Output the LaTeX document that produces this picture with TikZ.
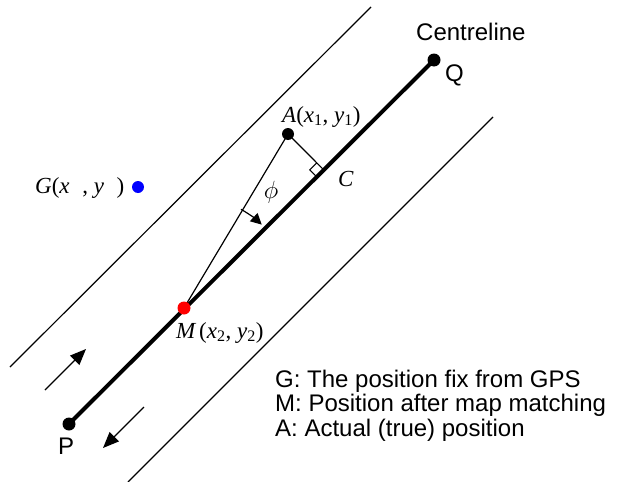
\documentclass[tikz,border=0pt]{standalone}
\usepackage{fontspec}
\setmainfont{Liberation Sans}
\newfontfamily\tms{Liberation Serif}
\usetikzlibrary{arrows.meta,positioning,calc}
\newcommand{\up}[1]{{\upshape #1}}

\begin{document}
\begin{tikzpicture}[x=1pt,y=-1pt,>={Triangle[length=16pt,width=13pt]},node distance=6pt]
  \tikzstyle{dot}=[circle,fill=black,inner sep=0pt,minimum size=13pt]
  \tikzstyle{edge}=[line width=1.2pt]
  \tikzstyle{road}=[line width=4pt]
  \tikzstyle{lbl}=[font=\fontsize{24}{24.5}\selectfont,inner sep=0pt]
  \tikzstyle{mlbl}=[font=\tms\itshape\fontsize{23}{24}\selectfont,inner sep=0pt]
  \useasboundingbox (0,0) rectangle (622,482);
  % road edges
  \coordinate (L1) at (371,7);
  \coordinate (L2) at (10,367);
  \coordinate (R1) at (493,117);
  \coordinate (R2) at (128,482);
  \draw[edge] (L1) -- (L2);
  \draw[edge] (R1) -- (R2);
  % centreline and points
  \node[dot] (P) at (69,424) {};
  \node[dot] (Q) at (434,60) {};
  \coordinate (M) at (184,308);
  \node[dot,minimum size=12pt] (A) at (288,134) {};
  \coordinate (C) at ($(P)!(A)!(Q)$);
  \draw[road] (P.center) -- (Q.center);
  \draw[edge] (A.center) -- (M);
  \draw[edge] (A.center) -- (C);
  \draw[line width=1pt] ($(C)+(-7,7)$) -- ++(-7,-7) -- ++(7,-7);
  \draw[edge,-{Triangle[length=11pt,width=11pt]}] ($(M)+(-60:114)$) arc[start angle=-60,end angle=-47,radius=114];
  \node[dot,fill=red,minimum size=13pt] (Mdot) at (M) {};
  \node[dot,fill=blue,minimum size=12pt] (G) at (138,187) {};
  % direction of travel
  \coordinate (up1) at (45,390);
  \coordinate (up2) at (86,349);
  \coordinate (dn1) at (144,407);
  \coordinate (dn2) at (103,448);
  \draw[edge,->] (up1) -- (up2);
  \draw[edge,->] (dn1) -- (dn2);
  % labels
  \node[lbl,anchor=base west] (cl) at (416,40) {Centreline};
  \node[lbl,anchor=base west] (qlbl) at (445,81) {Q};
  \node[lbl,anchor=base west] (plbl) at (58,454) {P};
  \node[mlbl,anchor=base west] (albl) at (282,122) {A\up{(}x\textsubscript{\upshape 1}\up{,} y\textsubscript{\upshape 1}\up{)}};
  \node[mlbl,anchor=base west] (clbl) at (338,186) {C};
  \node[mlbl,anchor=base west] (mlbl) at (176,338) {M\,\up{(}x\textsubscript{\upshape 2}\up{,} y\textsubscript{\upshape 2}\up{)}};
  \node[mlbl,anchor=base west] (glbl) at (35,193) {G\up{(}x\hspace{0.55em}\up{,} y\hspace{0.55em}\up{)}};
  \node[inner sep=0pt,font=\fontsize{26}{28}\selectfont] (phi) at (271,192) {$\phi$};
  \node[lbl,anchor=base west,align=left] (legend) at (275,436) {G: The position fix from GPS\\M: Position after map matching\\A: Actual (true) position};
\end{tikzpicture}
\end{document}
